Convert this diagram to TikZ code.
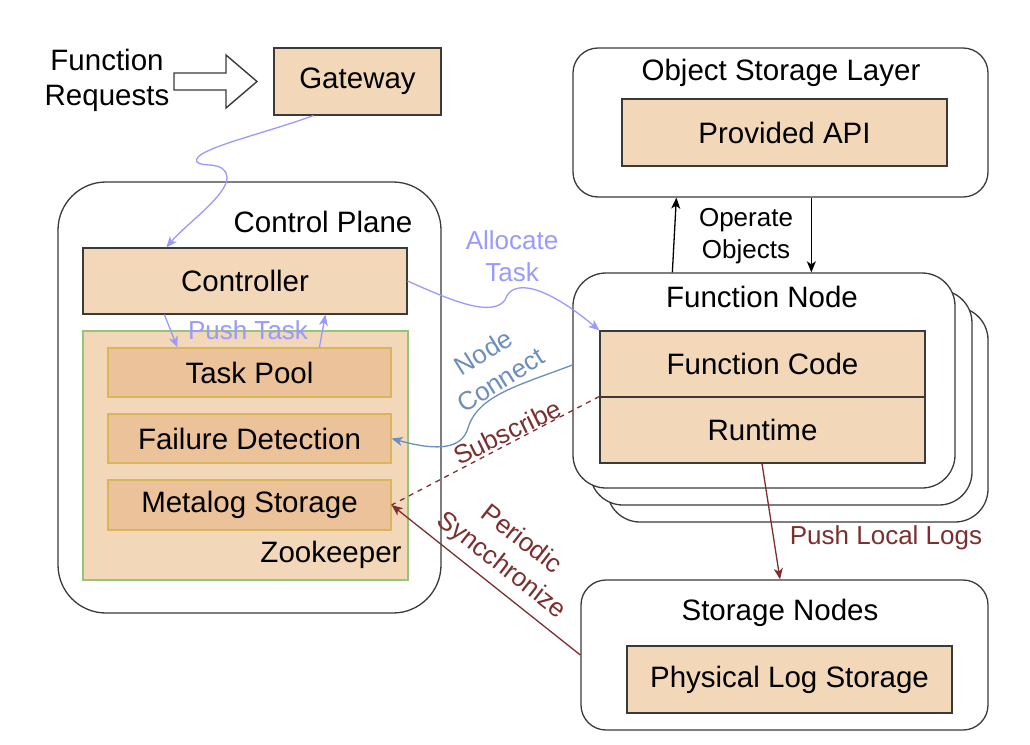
\documentclass[tikz,border=0pt]{standalone}
\usepackage{fontspec}
\setmainfont{Liberation Sans}
\usetikzlibrary{arrows.meta,calc}
\definecolor{boxtan}{HTML}{F2D7B9}
\definecolor{innertan}{HTML}{EBC299}
\definecolor{goldline}{HTML}{D9B55C}
\definecolor{greenline}{HTML}{97C47C}
\definecolor{boxline}{HTML}{3A3A3A}
\definecolor{purp}{HTML}{9999FF}
\definecolor{blueedge}{HTML}{6C8EBF}
\definecolor{darkred}{HTML}{7B2F2F}
\newcommand\bigtxt{\fontsize{29.5}{35}\selectfont}
\newcommand\lbltxt{\fontsize{26}{32.5}\selectfont}
\begin{document}
\begin{tikzpicture}[x=1pt,y=-1pt,
  plainbox/.style={rectangle,draw=boxline,fill=boxtan,line width=1.2pt,inner sep=0pt,font=\bigtxt},
  innerbox/.style={rectangle,draw=goldline,fill=innertan,line width=1.2pt,inner sep=0pt,font=\bigtxt},
  groupbox/.style={rectangle,draw=boxline,fill=white,line width=1.3pt,inner sep=0pt},
  title/.style={font=\bigtxt,inner sep=0pt,align=center},
  lbl/.style={font=\lbltxt,inner sep=0pt,align=center},
  edge/.style={line width=1.3pt,-{Stealth[length=11pt,width=9pt,inset=3pt]}}]
\useasboundingbox (0,0) rectangle (1030,744);

% Request arrow and gateway
\node[title] (req) at (107,80) {Function\\Requests};
\draw[line width=1.4pt,draw=boxline,fill=white] (174,73) -- (226,73) -- (226,55) -- (257,81.5) -- (226,108) -- (226,90) -- (174,90) -- cycle;
\node[plainbox,minimum width=167pt,minimum height=67pt] (gw) at (357.5,81.5) {Gateway};

% Control plane
\node[groupbox,rounded corners=48pt,minimum width=383pt,minimum height=431pt] (cp) at (249.5,397.5) {};
\node[title] (cptitle) at (323,222) {Control Plane};
\node[plainbox,minimum width=324pt,minimum height=66pt] (ctrl) at (245,281) {Controller};
\node[rectangle,draw=greenline,fill=boxtan,line width=1.2pt,minimum width=325pt,minimum height=249pt,inner sep=0pt] (zk) at (245.5,455.5) {};
\node[innerbox,minimum width=283pt,minimum height=49pt] (tp) at (249.5,372.5) {Task Pool};
\node[innerbox,minimum width=283pt,minimum height=49pt] (fd) at (249.5,438.5) {Failure Detection};
\node[innerbox,minimum width=283pt,minimum height=50pt] (ms) at (249.5,505) {Metalog Storage};
\node[title] (zklabel) at (331,555) {Zookeeper};

% Object storage layer
\node[groupbox,rounded corners=25pt,minimum width=415pt,minimum height=149pt] (osl) at (780.5,122.5) {};
\node[title] (osltitle) at (781,73) {Object Storage Layer};
\node[plainbox,minimum width=325pt,minimum height=67pt] (api) at (784.5,132.5) {Provided API};

% Function node stack
\node[groupbox,rounded corners=33pt,minimum width=381pt,minimum height=215pt] (fnC) at (797.5,414.5) {};
\node[groupbox,rounded corners=33pt,minimum width=382pt,minimum height=215pt] (fnB) at (781,397.5) {};
\node[groupbox,rounded corners=33pt,minimum width=382pt,minimum height=215pt] (fnA) at (764,380.5) {};
\node[title] (fntitle) at (762,297) {Function Node};
\node[plainbox,minimum width=325pt,minimum height=66pt] (fc) at (762.5,364) {Function Code};
\node[plainbox,minimum width=325pt,minimum height=66pt] (rt) at (762.5,430) {Runtime};

% Storage nodes
\node[groupbox,rounded corners=25pt,minimum width=407pt,minimum height=150pt] (sn) at (784.5,655) {};
\node[title] (sntitle) at (780,613) {Storage Nodes};
\node[plainbox,minimum width=325pt,minimum height=67pt] (pls) at (789.5,679.5) {Physical Log Storage};

% Connectors
\draw[edge,purp] ($(gw.south west)+(40,0)$) .. controls (260,135) and (190,150) .. (197,162)
   .. controls (202,168) and (225,160) .. (227,177)
   .. controls (228,195) and (185,225) .. ($(ctrl.north west)+(84,0)$);
\draw[edge,purp] (ctrl.east) .. controls (450,300) and (492,318) .. (505,300)
   .. controls (512,278) and (545,285) .. (fc.north west);
\draw[edge,purp] ($(ctrl.south west)+(82,0)$) -- ($(tp.north west)+(70,0)$);
\draw[edge,purp] ($(tp.north west)+(212,0)$) -- ($(ctrl.south west)+(243,0)$);
\draw[edge,blueedge] ($(fnA.west)+(0,-15.5)$) .. controls (520,385) and (478,395) .. (468,428)
   .. controls (462,448) and (440,452) .. (fd.east);
\draw[line width=1.3pt,darkred,dashed,dash pattern=on 5pt off 5pt] (rt.north west) -- (ms.east);
\draw[edge,darkred] (sn.west) -- (ms.east);
\draw[edge,darkred] ($(rt.south)+(-0.5,0)$) -- ($(sn.north)+(-4.5,0)$);
\draw[edge,black] ($(fnA.north west)+(100,0)$) -- ($(osl.south west)+(104,0)$);
\draw[edge,black] ($(osl.south west)+(239,0)$) -- ($(fnA.north west)+(239,0)$);

% Connector labels
\node[lbl,text=purp] (lalloc) at (512,256) {Allocate\\Task};
\node[lbl,text=purp] (lpush) at (248,330) {Push Task};
\node[lbl,text=blueedge,rotate=32] (lnode) at (492,366) {Node\\Connect};
\node[lbl,text=darkred,rotate=26] (lsub) at (507,432) {Subscribe};
\node[lbl,text=darkred,rotate=-38] (lper) at (511,553) {Periodic\\Syncchronize};
\node[lbl,text=darkred] (llogs) at (886,538) {Push Local Logs};
\node[lbl,text=black] (lop) at (746,236) {Operate\\Objects};
\end{tikzpicture}
\end{document}
